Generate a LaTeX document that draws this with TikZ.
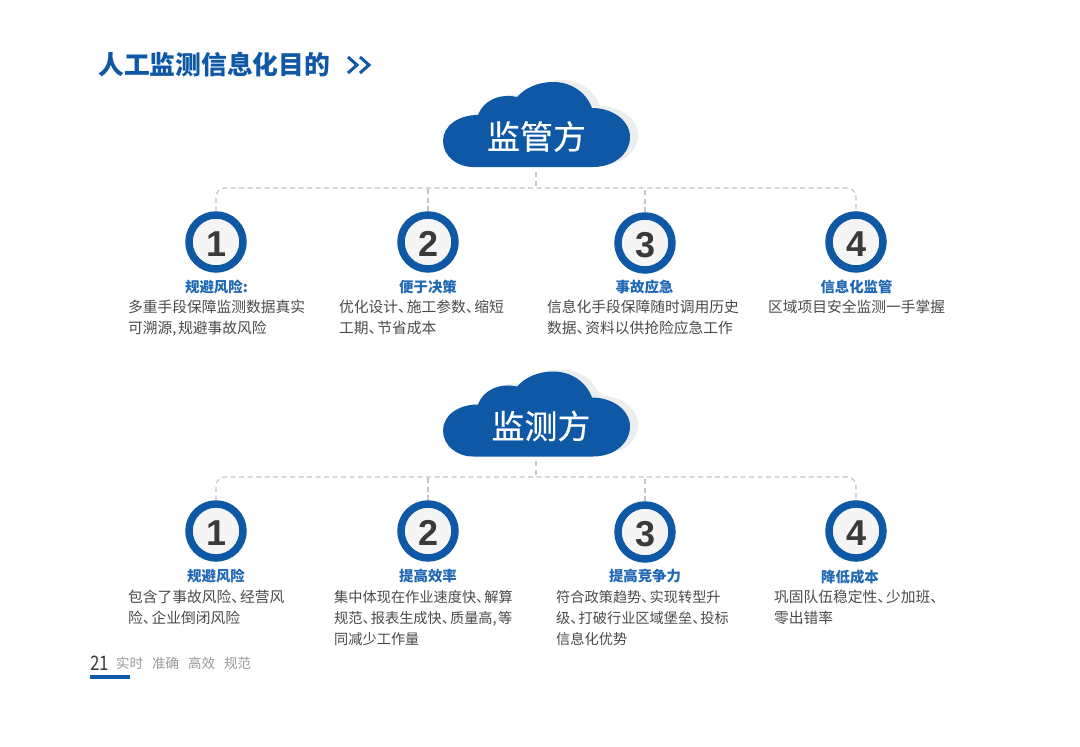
\documentclass[tikz,border=0pt]{standalone}
\usepackage{fontspec}
\setmainfont{Noto Sans CJK SC}
\newfontfamily\numfont{Liberation Sans}
\newfontfamily\cloudfont[FakeBold=0.5]{Noto Sans CJK SC}
\usetikzlibrary{calc}
\definecolor{brandblue}{HTML}{0F58A5}
\definecolor{headblue}{HTML}{1F68B4}
\definecolor{bodygray}{HTML}{4A4A4A}
\definecolor{dashgray}{HTML}{C4C4C4}
\definecolor{cloudshade}{HTML}{ECEEEE}
\definecolor{numgray}{HTML}{3A3A3A}
\definecolor{badgefill}{HTML}{F5F5F5}
\newcommand{\dun}{、\kern-.42em}
\newcommand{\dou}{,\kern1.5pt}
\newcommand{\cloudshape}{
  (473,167) -- (593,167)
  .. controls (615,167) and (630,153) .. (630,137)
  .. controls (630,121) and (613,108) .. (592,108)
  .. controls (586,92) and (571,82) .. (553,82)
  .. controls (538,82) and (525,88) .. (517,97)
  .. controls (499,93) and (483,101) .. (478,115)
  .. controls (458,115) and (443,126) .. (443,141)
  .. controls (443,156) and (457,167) .. (473,167) -- cycle}
\tikzset{
  x=1pt,y=-1pt,
  cloudfill/.style={fill=brandblue},
  cloudback/.style={fill=cloudshade},
  cloudtext/.style={text=white,font=\cloudfont\fontsize{33}{35}\selectfont,inner sep=0pt},
  badge/.style={circle,draw=brandblue,line width=7.5pt,fill=badgefill,minimum size=54pt,inner sep=0pt,text=numgray,text height=28.8pt,text depth=0pt,font=\numfont\bfseries\fontsize{36}{36}\selectfont},
  dashline/.style={draw=dashgray,line width=1.1pt,dash pattern=on 5pt off 3.5pt},
  headtext/.style={text=headblue,font=\fontsize{14.4}{16}\selectfont\bfseries,inner sep=0pt},
  bodytext/.style={text=bodygray,font=\fontsize{14.75}{21}\selectfont,align=left,anchor=north west,inner sep=0pt},
  bodysmall/.style={bodytext,font=\fontsize{14.2}{21}\selectfont},
}
\newcommand{\dg}[1]{\kern1.5pt #1}
\begin{document}
\begin{tikzpicture}
\useasboundingbox (0,0) rectangle (1080,747);
\fill[white] (0,0) rectangle (1080,747);
% title
\node[text=brandblue,font=\fontsize{25.8}{28}\selectfont\bfseries,anchor=west,inner sep=0pt] (title) at (98,65) {人工监测信息化目的};
\coordinate (chevA) at (348,65);
\draw[brandblue,line width=3pt] ($(chevA)+(0,-8)$) -- ($(chevA)+(9,0)$) -- ($(chevA)+(0,8)$);
\draw[brandblue,line width=3pt] ($(chevA)+(12,-8)$) -- ($(chevA)+(21,0)$) -- ($(chevA)+(12,8)$);
% cloud 1
\begin{scope}[shift={(8,-2)}] \path[cloudback] \cloudshape; \end{scope}
\path[cloudfill] \cloudshape;
\node[cloudtext] (cloudA) at (536.5,136.5) {监管方};
\coordinate (footA) at (536,172);
\coordinate (hubA) at (536,188);
% cloud 2
\begin{scope}[shift={(0,289.5)}]
\begin{scope}[shift={(8,-2)}] \path[cloudback] \cloudshape; \end{scope}
\path[cloudfill] \cloudshape;
\end{scope}
\node[cloudtext] (cloudB) at (541,426) {监测方};
\coordinate (footB) at (536,461);
\coordinate (hubB) at (536,477);
% badges row 1
\node[badge] (a1) at (216,242) {\dg{1}};
\node[badge] (a2) at (428,242) {\dg{2}};
\node[badge] (a3) at (645,243) {\dg{3}};
\node[badge] (a4) at (856,242) {\dg{4}};
% badges row 2
\node[badge] (b1) at (216,531) {\dg{1}};
\node[badge] (b2) at (428,531) {\dg{2}};
\node[badge] (b3) at (645,532) {\dg{3}};
\node[badge] (b4) at (856,531) {\dg{4}};
% connectors row 1
\draw[dashline] (footA) -- (hubA);
\draw[dashline,rounded corners=9pt] (a1.north) -- (a1.north |- hubA) -- (a4.north |- hubA) -- (a4.north);
\draw[dashline] (a2.north) -- (a2.north |- hubA);
\draw[dashline] (a3.north) -- (a3.north |- hubA);
% connectors row 2
\draw[dashline] (footB) -- (hubB);
\draw[dashline,rounded corners=9pt] (b1.north) -- (b1.north |- hubB) -- (b4.north |- hubB) -- (b4.north);
\draw[dashline] (b2.north) -- (b2.north |- hubB);
\draw[dashline] (b3.north) -- (b3.north |- hubB);
% row 1 text
\node[headtext] (ha1) at (216.5,287) {规避风险:};
\node[headtext] (ha2) at (428,287) {便于决策};
\node[headtext] (ha3) at (644.5,287) {事故应急};
\node[headtext] (ha4) at (856.5,287) {信息化监管};
\node[bodytext] (ta1) at (128,300) {多重手段保障监测数据真实\\可溯源\dou 规避事故风险};
\node[bodytext] (ta2) at (339,300) {优化设计\dun 施工参数\dun 缩短\\工期\dun 节省成本};
\node[bodytext] (ta3) at (547,300) {信息化手段保障随时调用历史\\数据\dun 资料以供抢险应急工作};
\node[bodytext] (ta4) at (768,300) {区域项目安全监测一手掌握};
% row 2 text
\node[headtext] (hb1) at (216,576) {规避风险};
\node[headtext] (hb2) at (428,576) {提高效率};
\node[headtext] (hb3) at (645,576) {提高竞争力};
\node[headtext] (hb4) at (850,577) {降低成本};
\node[bodytext] (tb1) at (128,590) {包含了事故风险\dun 经营风\\险\dun 企业倒闭风险};
\node[bodysmall] (tb2) at (334,590) {集中体现在作业速度快\dun 解算\\规范\dun 报表生成快\dun 质量高,\kern1.5pt 等\\同减少工作量};
\node[bodysmall] (tb3) at (556,590) {符合政策趋势\dun 实现转型升\\级\dun 打破行业区域堡垒\dun 投标\\信息化优势};
\node[bodytext] (tb4) at (774,590) {巩固队伍稳定性\dun 少加班\dun \\零出错率};
% footer
\node[text=numgray,font=\fontsize{20}{22}\selectfont,anchor=west,inner sep=0pt,xscale=.85] (page) at (90,663) {21};
\node[text=black!40,font=\fontsize{13.5}{16}\selectfont,anchor=west,inner sep=0pt] (slogan) at (116,663) {实时\hspace{9pt}准确\hspace{9pt}高效\hspace{9pt}规范};
\fill[brandblue] (90,674.5) rectangle (130,678.5);
\end{tikzpicture}
\end{document}
